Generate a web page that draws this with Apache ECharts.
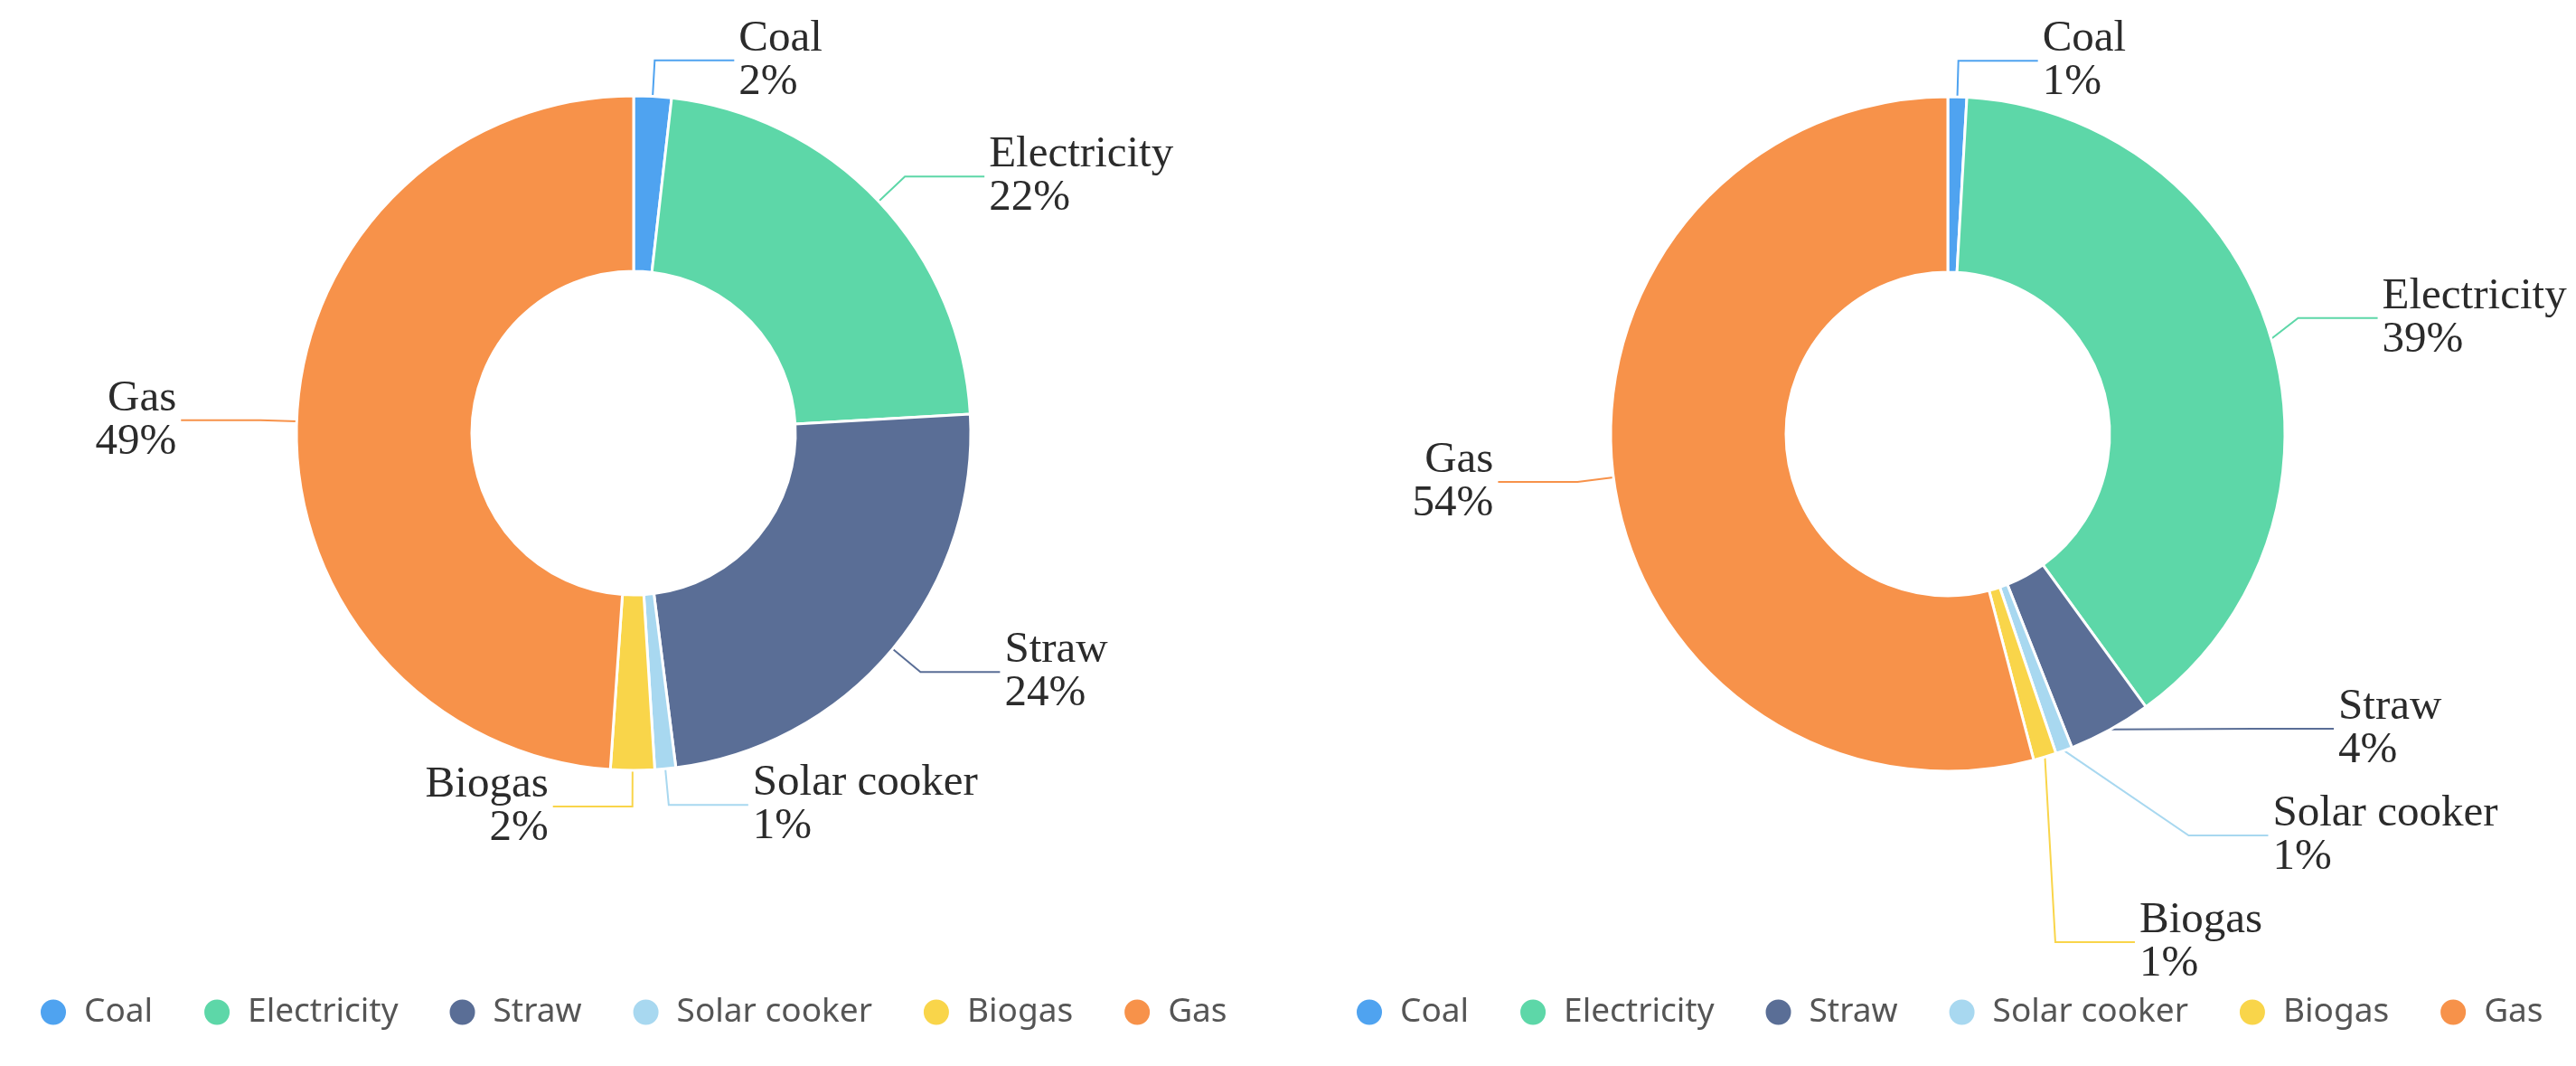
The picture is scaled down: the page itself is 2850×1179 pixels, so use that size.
<!DOCTYPE html>
<html>
<head>
<meta charset="utf-8">
<script src="https://cdn.jsdelivr.net/npm/echarts@6/dist/echarts.min.js"></script>
<style>
  html, body { margin: 0; padding: 0; background: #fff; }
  #chart { width: 2850px; height: 1179px; }
</style>
</head>
<body>
<div id="chart"></div>
<script>
const categories = ['Coal', 'Electricity', 'Straw', 'Solar cooker', 'Biogas', 'Gas'];
// shares, labels show them rounded
const leftValues = [1.8, 22.3, 23.9, 1.0, 2.1, 48.9];
const rightValues = [0.9, 39.1, 4.0, 0.8, 1.1, 54.1];
const colors = ['#4fa3f0', '#5dd7a8', '#5a6e96', '#a8d8f0', '#f9d54a', '#f7924a'];

const labelFont = 'Liberation Serif';
const legendFont = 'Noto Sans';

function toData(values) {
  return categories.map((name, i) => ({ name, value: values[i] }));
}

// bottom limits how far down the crowded labels may be pushed
function pieSeries(values, center, bottom) {
  return {
    type: 'pie',
    top: 0,
    left: 0,
    bottom,
    center,
    radius: [179, 373],
    percentPrecision: 0,
    itemStyle: { borderColor: '#fff', borderWidth: 3 },
    label: {
      formatter: '{b}\n{d}%',
      fontFamily: labelFont,
      fontSize: 49,
      lineHeight: 48,
      color: '#2b2b2b',
      width: 320,
      padding: [10, 0, 10, 0]
    },
    labelLine: {
      length: 40,
      length2: 88,
      lineStyle: { width: 2 }
    },
    data: toData(values)
  };
}

function legend(left) {
  return {
    left,
    top: 1096,
    icon: 'circle',
    itemWidth: 58,
    itemHeight: 30,
    itemGap: 55,
    textStyle: { fontFamily: legendFont, fontSize: 37, color: '#555' },
    data: categories
  };
}

const chart = echarts.init(document.getElementById('chart'));
chart.setOption({
  color: colors,
  animation: false,
  legend: [legend(38), legend(1494)],
  series: [
    pieSeries(leftValues, [701, 479], 0),
    pieSeries(rightValues, [2155, 480], 78)
  ]
});
</script>
</body>
</html>
